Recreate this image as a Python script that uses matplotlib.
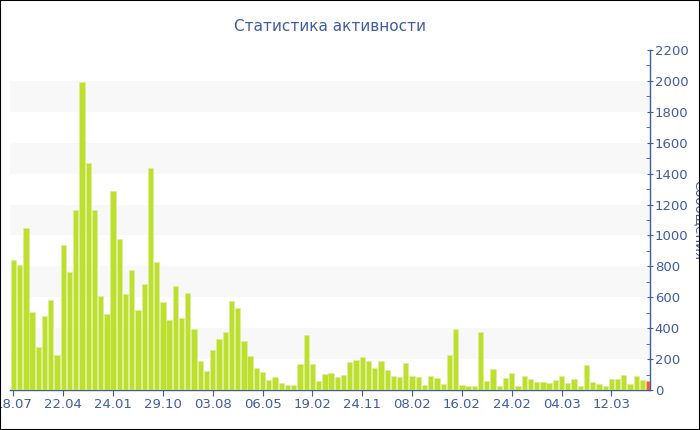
import matplotlib
matplotlib.use("Agg")
import matplotlib.pyplot as plt
from matplotlib.ticker import MultipleLocator
from matplotlib.patches import Rectangle

values = [840, 810, 1050, 505, 278, 477, 580, 226, 937, 764,
          1163, 1991, 1467, 1165, 608, 492, 1286, 979, 619, 774,
          520, 688, 1439, 826, 572, 451, 671, 468, 626, 395,
          188, 123, 259, 330, 373, 578, 531, 317, 222, 142,
          116, 65, 82, 47, 32, 32, 168, 356, 168, 56,
          101, 110, 82, 97, 179, 194, 214, 186, 140, 188,
          129, 91, 86, 173, 91, 84, 32, 88, 76, 37,
          227, 393, 32, 26, 26, 373, 58, 138, 24, 80,
          108, 26, 88, 71, 50, 50, 43, 65, 91, 43,
          69, 26, 162, 50, 37, 24, 73, 73, 97, 37,
          88, 63, 58]
tick_labels = ["18.07", "22.04", "24.01", "29.10", "03.08", "06.05", "19.02",
               "24.11", "08.02", "16.02", "24.02", "04.03", "12.03"]
tick_step = 8
title = "Статистика активности"
ylabel = "Сообщения"

blue = "#3f5ba4"
green = "#bde02f"
orange = "#e8622a"

fig = plt.figure(figsize=(7, 4.3), dpi=100)
ax = fig.add_axes([10 / 700, 40 / 430, 640 / 700, 340 / 430])

x = list(range(len(values)))
colors = [green] * (len(values) - 1) + [orange]
ax.bar(x, values, width=0.85, color=colors, edgecolor="#dcef9a", linewidth=0.4, zorder=3)
ax.patches[-1].set_edgecolor("#f3b49a")

for lo in [200, 600, 1000, 1400, 1800]:
    ax.axhspan(lo, lo + 200, color="#f8f8f8", zorder=0, lw=0)

ax.set_xlim(-0.55, 102.2)
ax.set_ylim(0, 2200)

ax.set_xticks(x[::tick_step])
ax.set_xticklabels(tick_labels)
ax.yaxis.tick_right()
ax.yaxis.set_label_position("right")
ax.yaxis.set_major_locator(MultipleLocator(200))
ax.yaxis.set_minor_locator(MultipleLocator(100))

for s in ["top", "left"]:
    ax.spines[s].set_visible(False)
ax.spines["right"].set_color(blue)
ax.spines["bottom"].set_color(blue)
ax.spines["right"].set_linewidth(1.0)
ax.spines["bottom"].set_linewidth(1.0)

ax.tick_params(axis="x", colors=blue, labelsize=9.5, length=4, direction="out", pad=2)
ax.tick_params(axis="y", which="major", colors=blue, labelsize=9.5, length=5,
               direction="inout", pad=1)
ax.tick_params(axis="y", which="minor", colors=blue, length=3, direction="in")

ax.set_title(title, color=blue, fontsize=11, pad=14)
ax.set_ylabel(ylabel, color=blue, fontsize=9.5, rotation=-90, labelpad=12)

fig.patches.append(Rectangle((0, 0), 1, 1, transform=fig.transFigure, fill=False,
                             edgecolor="black", linewidth=1.5, zorder=10))

fig.savefig("out.png", dpi=100)
